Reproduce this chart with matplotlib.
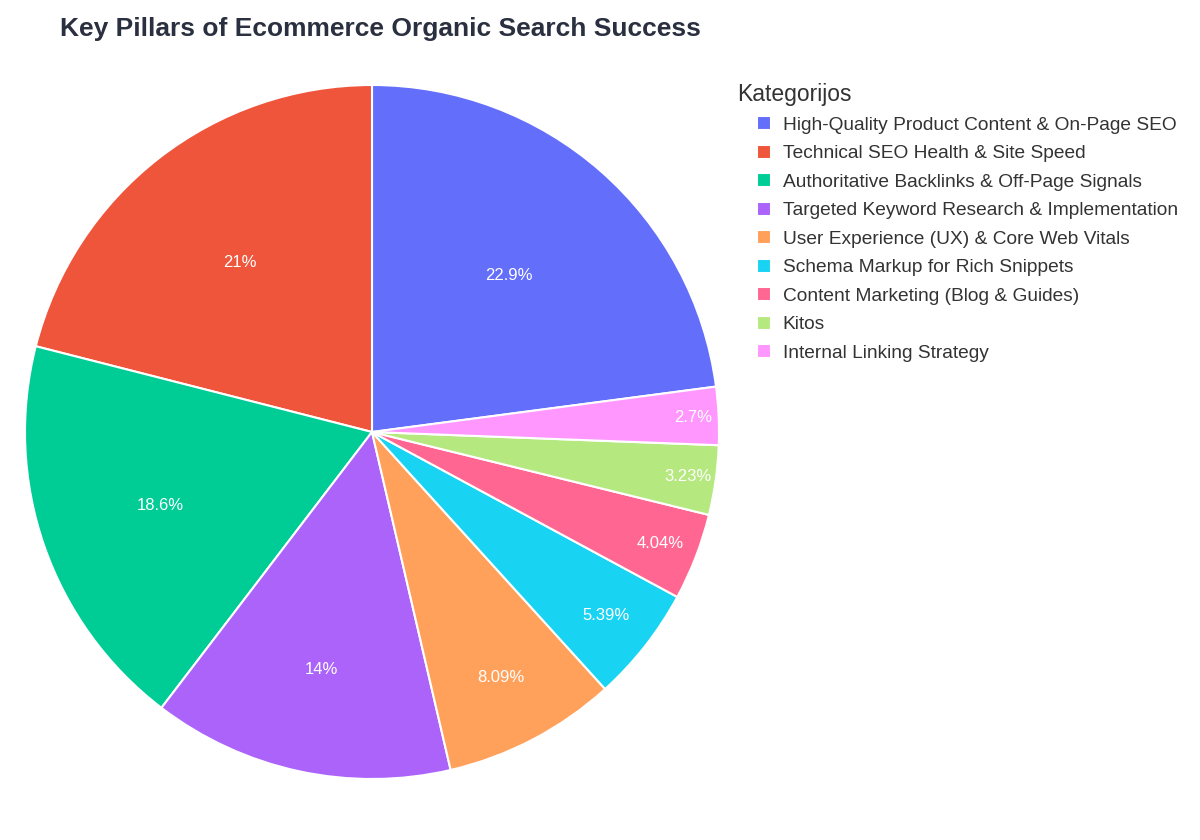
import numpy as np
import matplotlib
matplotlib.use("Agg")
import matplotlib.pyplot as plt

categories = [
    "High-Quality Product Content & On-Page SEO",
    "Technical SEO Health & Site Speed",
    "Authoritative Backlinks & Off-Page Signals",
    "Targeted Keyword Research & Implementation",
    "User Experience (UX) & Core Web Vitals",
    "Schema Markup for Rich Snippets",
    "Content Marketing (Blog & Guides)",
    "Kitos",
    "Internal Linking Strategy",
]
values = [85, 78, 69, 52, 30, 20, 15, 12, 10]
colors = ["#636EFA", "#EF553B", "#00CC96", "#AB63FA", "#FFA15A",
          "#19D3F3", "#FF6692", "#B6E880", "#FF97FF"]

# where plotly put the inside labels (fraction of radius)
label_radius = [0.60, 0.62, 0.645, 0.70, 0.80, 0.856, 0.89, 0.92, 0.925]

plt.rcParams["font.family"] = ["Liberation Sans", "DejaVu Sans"]

fig = plt.figure(figsize=(12, 8.4), dpi=100)
ax = fig.add_axes([372/1200 - 347/1200, (840 - 432 - 347)/840, 694/1200, 694/840])

total = sum(values)
start = 90 - 360 * values[0] / total
wedges, texts, autotexts = ax.pie(
    values, colors=colors, startangle=start, counterclock=True,
    autopct=lambda p: f"{p:.3g}%", pctdistance=0.6,
    wedgeprops=dict(edgecolor="white", linewidth=1.5),
    textprops=dict(color="white", fontsize=12),
)
for w, t, r in zip(wedges, autotexts, label_radius):
    ang = np.deg2rad((w.theta1 + w.theta2) / 2)
    t.set_position((r * np.cos(ang), r * np.sin(ang)))
    t.set_ha("center")
    t.set_va("center")
ax.set_xlim(-1, 1)
ax.set_ylim(-1, 1)
ax.set_aspect("equal")

fig.text(60/1200, 1 - 29/840, "Key Pillars of Ecommerce Organic Search Success",
         fontsize=19, fontweight="bold", color="#2a3040", va="center", ha="left")

# legend
fig.text(737/1200, 1 - 94/840, "Kategorijos", fontsize=16.5, color="#333333",
         va="center", ha="left")
leg = fig.legend(wedges, categories, loc="upper left",
                 bbox_to_anchor=(757/1200, 1 - 116/840), frameon=False,
                 fontsize=13.8, handlelength=0.75, handleheight=0.75,
                 handletextpad=0.6, labelspacing=0.565, borderaxespad=0,
                 borderpad=0)
for txt in leg.get_texts():
    txt.set_color("#333333")

fig.savefig("out.png", dpi=100)
